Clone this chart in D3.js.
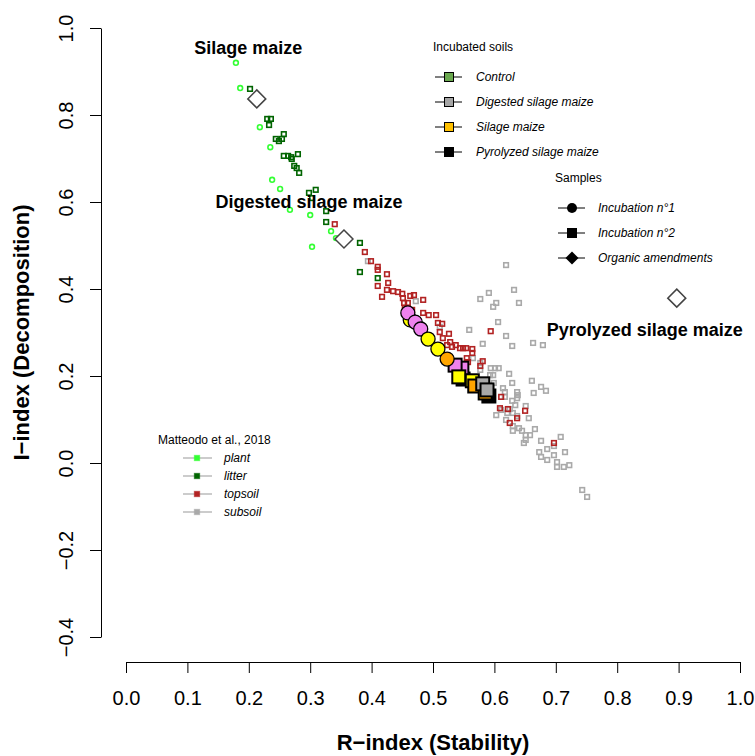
<!DOCTYPE html>
<html><head><meta charset="utf-8">
<script src="https://cdnjs.cloudflare.com/ajax/libs/d3/7.8.5/d3.min.js"></script>
<style>body{margin:0;background:#fff} svg text{font-family:"Liberation Sans",Arial,sans-serif}</style>
</head><body>
<svg id="c" width="755" height="756"></svg>
<script>
// ---------- data ----------
const xTicks = [0,0.1,0.2,0.3,0.4,0.5,0.6,0.7,0.8,0.9,1.0];
const yTicks = [-0.4,-0.2,0,0.2,0.4,0.6,0.8,1.0];
const xTitle = "R\u2212index (Stability)";
const yTitle = "I\u2212index (Decomposition)";

// Matteodo et al., 2018 : [R, I]
const plantPts = [[0.179,0.920],[0.186,0.862],[0.218,0.772],[0.235,0.726],[0.238,0.651],[0.251,0.630],[0.267,0.582],[0.300,0.570],[0.334,0.533],[0.342,0.517],[0.303,0.497]];
const litterPts = [[0.202,0.860],[0.230,0.791],[0.236,0.791],[0.233,0.777],[0.257,0.756],[0.244,0.745],[0.249,0.740],[0.254,0.745],[0.280,0.710],[0.257,0.706],[0.264,0.706],[0.269,0.703],[0.270,0.699],[0.274,0.683],[0.278,0.678],[0.282,0.667],[0.298,0.621],[0.309,0.628],[0.303,0.609],[0.326,0.579],[0.326,0.554],[0.381,0.506],[0.381,0.439],[0.410,0.425]];
const topsoilPts = [[0.340,0.549],[0.389,0.485],[0.399,0.464],[0.410,0.451],[0.410,0.444],[0.425,0.434],[0.427,0.414],[0.410,0.407],[0.425,0.398],[0.435,0.395],[0.443,0.393],[0.450,0.389],[0.417,0.382],[0.451,0.379],[0.463,0.384],[0.469,0.386],[0.484,0.375],[0.453,0.368],[0.459,0.368],[0.454,0.356],[0.466,0.352],[0.484,0.345],[0.493,0.340],[0.505,0.340],[0.508,0.322],[0.515,0.320],[0.526,0.297],[0.511,0.301],[0.516,0.287],[0.528,0.278],[0.523,0.271],[0.531,0.267],[0.537,0.271],[0.544,0.264],[0.549,0.264],[0.554,0.264],[0.564,0.262],[0.564,0.253],[0.555,0.241],[0.557,0.232],[0.581,0.234],[0.577,0.223],[0.594,0.303],[0.611,0.152],[0.622,0.124],[0.650,0.120],[0.637,0.103],[0.625,0.092],[0.697,0.046],[0.609,0.126]];
const subsoilPts = [[0.394,0.464],[0.472,0.372],[0.511,0.313],[0.619,0.455],[0.591,0.391],[0.632,0.398],[0.577,0.377],[0.603,0.368],[0.598,0.359],[0.640,0.368],[0.606,0.324],[0.559,0.306],[0.619,0.292],[0.581,0.274],[0.629,0.269],[0.663,0.276],[0.679,0.271],[0.565,0.241],[0.577,0.230],[0.577,0.214],[0.594,0.218],[0.601,0.218],[0.607,0.218],[0.593,0.202],[0.598,0.202],[0.599,0.184],[0.624,0.205],[0.629,0.184],[0.661,0.189],[0.676,0.175],[0.684,0.166],[0.664,0.161],[0.637,0.163],[0.638,0.156],[0.637,0.149],[0.614,0.172],[0.617,0.163],[0.617,0.152],[0.629,0.143],[0.634,0.133],[0.625,0.124],[0.651,0.131],[0.656,0.103],[0.637,0.108],[0.630,0.115],[0.621,0.115],[0.611,0.122],[0.603,0.110],[0.619,0.099],[0.630,0.085],[0.630,0.074],[0.640,0.080],[0.645,0.074],[0.666,0.078],[0.651,0.064],[0.658,0.064],[0.651,0.053],[0.648,0.046],[0.676,0.051],[0.708,0.060],[0.715,0.025],[0.686,0.032],[0.697,0.039],[0.673,0.025],[0.676,0.014],[0.697,0.018],[0.686,0.007],[0.702,0.002],[0.702,-0.009],[0.713,-0.009],[0.722,-0.005],[0.743,-0.062],[0.751,-0.078]];

// Incubated soils (incubation n°1 = circles, n°2 = squares)
const inc1R = [0.463,0.459,0.471,0.480,0.492,0.508,0.523];
const inc1I = [0.329,0.345,0.324,0.308,0.285,0.262,0.239];
const inc1G = ["yel","vio","vio","vio","yel","yel","ora"];
const inc2R = [0.549,0.591,0.547,0.536,0.542,0.564,0.568,0.585,0.581,0.588];
const inc2I = [0.193,0.154,0.218,0.225,0.198,0.189,0.177,0.161,0.182,0.168];
const inc2G = ["blk","blk","vio","vio","yel","yel","ora","ora","gry","gry"];

// Organic amendments
const amendNames = ["Silage maize","Digested silage maize","Pyrolyzed silage maize"];
const amendR = [0.213,0.355,0.897];
const amendI = [0.837,0.515,0.379];
const amendLabelR = [0.199,0.298,0.845];
const amendLabelI = [0.956,0.602,0.306];

// legends
const soilNames = ["Control","Digested silage maize","Silage maize","Pyrolyzed silage maize"];
const soilColors = ["#6aa84f","#a6a6a6","#ffc000","#000000"];
const sampleNames = ["Incubation n\u00b01","Incubation n\u00b02","Organic amendments"];
const litNames = ["plant","litter","topsoil","subsoil"];
const litColors = ["#33ff33","#006400","#b22222","#a9a9a9"];

// ---------- drawing ----------
const svg = d3.select("#c");
const x = d3.scaleLinear().domain([0,1]).range([126,740]);
const y = d3.scaleLinear().domain([-0.4,1]).range([637,28]);
const stageColor = d3.scaleOrdinal().domain(["vio","yel","ora","gry","blk"])
  .range(["#ee82ee","#ffff00","#ffa500","#a9a9a9","#000000"]);

// axes
const gx = svg.append("g").attr("transform","translate(0,662)")
  .call(d3.axisBottom(x).tickValues(xTicks).tickFormat(d3.format(".1f")).tickSize(11).tickSizeOuter(0));
gx.attr("font-size",null).attr("font-family",null);
gx.selectAll("text").attr("font-size",20).attr("y",29).attr("fill","#000");
gx.selectAll("line,path").attr("stroke","#000");

const gy = svg.append("g").attr("transform","translate(101,0)")
  .call(d3.axisLeft(y).tickValues(yTicks).tickFormat(d3.format(".1f")).tickSize(11).tickSizeOuter(0));
gy.attr("font-size",null).attr("font-family",null);
gy.selectAll("text").attr("font-size",20).attr("x",0).attr("dy",null)
  .attr("text-anchor","middle").attr("transform","translate(-28,0) rotate(-90)").attr("fill","#000");
gy.selectAll("line,path").attr("stroke","#000");

svg.append("text").attr("x",(x(0)+x(1))/2).attr("y",750).attr("text-anchor","middle")
  .attr("font-size",22).attr("font-weight","bold").text(xTitle);
svg.append("text").attr("transform",`translate(29,${(y(-0.4)+y(1))/2}) rotate(-90)`).attr("text-anchor","middle")
  .attr("font-size",22).attr("font-weight","bold").text(yTitle);

// Matteodo points
function squares(pts, color){
  svg.append("g").selectAll("rect").data(pts).join("rect")
    .attr("x",d=>x(d[0])-2.3).attr("y",d=>y(d[1])-2.3).attr("width",4.6).attr("height",4.6)
    .attr("fill","none").attr("stroke",color).attr("stroke-width",1.6);
}
squares(subsoilPts, litColors[3]);
squares(topsoilPts, litColors[2]);
squares(litterPts, litColors[1]);
svg.append("g").selectAll("circle").data(plantPts).join("circle")
  .attr("cx",d=>x(d[0])).attr("cy",d=>y(d[1])).attr("r",2.4)
  .attr("fill","none").attr("stroke",litColors[0]).attr("stroke-width",1.6);

// incubations
const inc1 = inc1R.map((r,i)=>({r, v:inc1I[i], g:inc1G[i]}));
const inc2 = inc2R.map((r,i)=>({r, v:inc2I[i], g:inc2G[i]}));
svg.append("g").selectAll("rect").data(inc2).join("rect")
  .attr("x",d=>x(d.r)-6.5).attr("y",d=>y(d.v)-6.5).attr("width",13).attr("height",13)
  .attr("fill",d=>stageColor(d.g)).attr("stroke","#000").attr("stroke-width",2);
svg.append("g").selectAll("circle").data(inc1).join("circle")
  .attr("cx",d=>x(d.r)).attr("cy",d=>y(d.v)).attr("r",7)
  .attr("fill",d=>stageColor(d.g)).attr("stroke","#000").attr("stroke-width",1.3);

// amendments
const diamond = r => `M0,${-r}L${r},0L0,${r}L${-r},0Z`;
svg.append("g").selectAll("path").data(amendR).join("path")
  .attr("transform",(d,i)=>`translate(${x(d)},${y(amendI[i])})`)
  .attr("d",diamond(9)).attr("fill","#fff").attr("stroke","#444").attr("stroke-width",1.5);
svg.append("g").selectAll("text").data(amendNames).join("text")
  .attr("x",(d,i)=>x(amendLabelR[i])).attr("y",(d,i)=>y(amendLabelI[i])).attr("dy","0.36em")
  .attr("text-anchor","middle").attr("font-size",18).attr("font-weight","bold").text(d=>d);

// legend: incubated soils
const lg1 = svg.append("g");
lg1.append("text").attr("x",433).attr("y",51).attr("font-size",12).text("Incubated soils");
soilNames.forEach((n,i)=>{
  const yy = 77 + i*25;
  lg1.append("line").attr("x1",435).attr("x2",462).attr("y1",yy).attr("y2",yy).attr("stroke","#000");
  lg1.append("rect").attr("x",449-4.5).attr("y",yy-4.5).attr("width",9).attr("height",9)
    .attr("fill",soilColors[i]).attr("stroke","#000").attr("stroke-width",1);
  lg1.append("text").attr("x",476).attr("y",yy+4.3).attr("font-size",12).attr("font-style","italic").text(n);
});
// legend: samples
const lg2 = svg.append("g");
lg2.append("text").attr("x",555).attr("y",182).attr("font-size",12).text("Samples");
sampleNames.forEach((n,i)=>{
  const yy = 208 + i*25;
  lg2.append("line").attr("x1",558).attr("x2",585).attr("y1",yy).attr("y2",yy).attr("stroke","#000");
  if(i===0) lg2.append("circle").attr("cx",572).attr("cy",yy).attr("r",5).attr("fill","#000");
  if(i===1) lg2.append("rect").attr("x",567).attr("y",yy-5).attr("width",10).attr("height",10).attr("fill","#000");
  if(i===2) lg2.append("path").attr("transform",`translate(572,${yy})`).attr("d",diamond(6.5)).attr("fill","#000");
  lg2.append("text").attr("x",598).attr("y",yy+4.3).attr("font-size",12).attr("font-style","italic").text(n);
});
// legend: Matteodo
const lg3 = svg.append("g");
lg3.append("text").attr("x",158).attr("y",444).attr("font-size",12).text("Matteodo et al., 2018");
litNames.forEach((n,i)=>{
  const yy = 458 + i*18;
  lg3.append("line").attr("x1",183).attr("x2",212).attr("y1",yy).attr("y2",yy).attr("stroke","#999");
  lg3.append("rect").attr("x",197-2.7).attr("y",yy-2.7).attr("width",5.4).attr("height",5.4)
    .attr("fill",litColors[i]).attr("stroke",litColors[i]).attr("stroke-opacity",0.5).attr("stroke-width",1);
  lg3.append("text").attr("x",224).attr("y",yy+4.3).attr("font-size",12).attr("font-style","italic").text(n);
});
</script>
</body></html>
